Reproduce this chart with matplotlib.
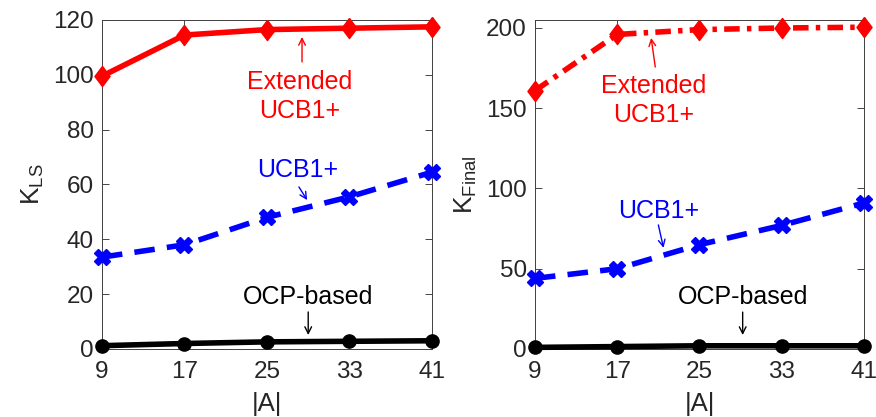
import matplotlib
matplotlib.use('Agg')
import matplotlib.pyplot as plt

plt.rcParams['font.family'] = ['Liberation Sans', 'DejaVu Sans']
plt.rcParams['mathtext.fontset'] = 'custom'
plt.rcParams['mathtext.rm'] = 'Liberation Sans'
plt.rcParams['mathtext.it'] = 'Liberation Sans'

arms = [9, 17, 25, 33, 41]

# K_LS panel
ext_ls = [99.5, 114.5, 116.5, 117, 117.5]
ucb_ls = [33.5, 38, 48, 55.5, 64.5]
ocp_ls = [1.2, 2.0, 2.6, 2.8, 3.0]

# K_Final panel
ext_fin = [161, 196, 199, 200, 200.5]
ucb_fin = [44, 50, 65, 77, 91]
ocp_fin = [1.0, 1.5, 2.0, 2.0, 2.0]

fig = plt.figure(figsize=(8.76, 4.17), dpi=100)
ax1 = fig.add_axes([0.1164, 0.1631, 0.3767, 0.789])
ax2 = fig.add_axes([0.6107, 0.1631, 0.3756, 0.789])

lw = 4.0
gray = '#262626'
# matlab-like diamond, a bit taller than wide
diam = [(0, 1), (0.75, 0), (0, -1), (-0.75, 0), (0, 1)]


def style(ax, ylim, yticks, ylabel):
    ax.set_xlim(9, 41)
    ax.set_ylim(*ylim)
    ax.set_xticks(arms)
    ax.set_yticks(yticks)
    ax.tick_params(direction='in', top=True, right=True, labelsize=17.5,
                   colors=gray, length=5, width=0.6)
    ax.tick_params(axis='x', pad=9)
    ax.tick_params(axis='y', pad=6)
    for s in ax.spines.values():
        s.set_color('#404040')
        s.set_linewidth(0.7)
    ax.set_xlabel('|A|', fontsize=18.5, color=gray, labelpad=6)
    ax.set_ylabel(ylabel, fontsize=19, color=gray, labelpad=5)


def note(ax, txt, xy, xytext, color, tail):
    ax.text(xytext[0], xytext[1], txt, color=color, fontsize=18,
            ha='center', va='center', linespacing=1.25)
    ax.annotate('', xy=xy, xytext=tail,
                arrowprops=dict(arrowstyle='->', color=color, lw=1.0,
                                mutation_scale=12, shrinkA=0, shrinkB=0))


# left panel
ax1.plot(arms, ext_ls, '-', color='red', lw=lw, marker=diam, ms=14.5, clip_on=False, zorder=3)
ax1.plot(arms, ucb_ls, '--', color='blue', lw=lw, marker='X', ms=11, dashes=(3.7, 2.2), clip_on=False, zorder=3)
ax1.plot(arms, ocp_ls, '-', color='black', lw=lw, marker='o', ms=9.5, clip_on=False, zorder=3)
style(ax1, (0, 120), [0, 20, 40, 60, 80, 100, 120], r'K$_{\mathrm{LS}}$')
note(ax1, 'Extended\nUCB1+', (28.4, 113.8), (28.2, 92), 'red', (28.4, 104.7))
note(ax1, 'UCB1+', (28.9, 54.3), (28.0, 65.3), 'blue', (28.1, 59.1))
note(ax1, 'OCP-based', (29.0, 5.1), (29.0, 19.0), 'black', (29.0, 13.5))

# right panel
ax2.plot(arms, ext_fin, '-.', color='red', lw=lw, marker=diam, ms=14.5, dashes=(2.8, 1.3, 0.8, 1.3), clip_on=False, zorder=3)
ax2.plot(arms, ucb_fin, '--', color='blue', lw=lw, marker='X', ms=11, dashes=(3.7, 2.2), clip_on=False, zorder=3)
ax2.plot(arms, ocp_fin, '-', color='black', lw=lw, marker='o', ms=9.5, clip_on=False, zorder=3)
style(ax2, (0, 205), [0, 50, 100, 150, 200], r'K$_{\mathrm{Final}}$')
note(ax2, 'Extended\nUCB1+', (20.3, 193.8), (20.5, 155), 'red', (20.7, 175.7))
note(ax2, 'UCB1+', (21.5, 63), (21.0, 86), 'blue', (21.0, 77.3))
note(ax2, 'OCP-based', (29.2, 8.7), (29.2, 32.4), 'black', (29.2, 23))

fig.savefig('out.png', dpi=100)
